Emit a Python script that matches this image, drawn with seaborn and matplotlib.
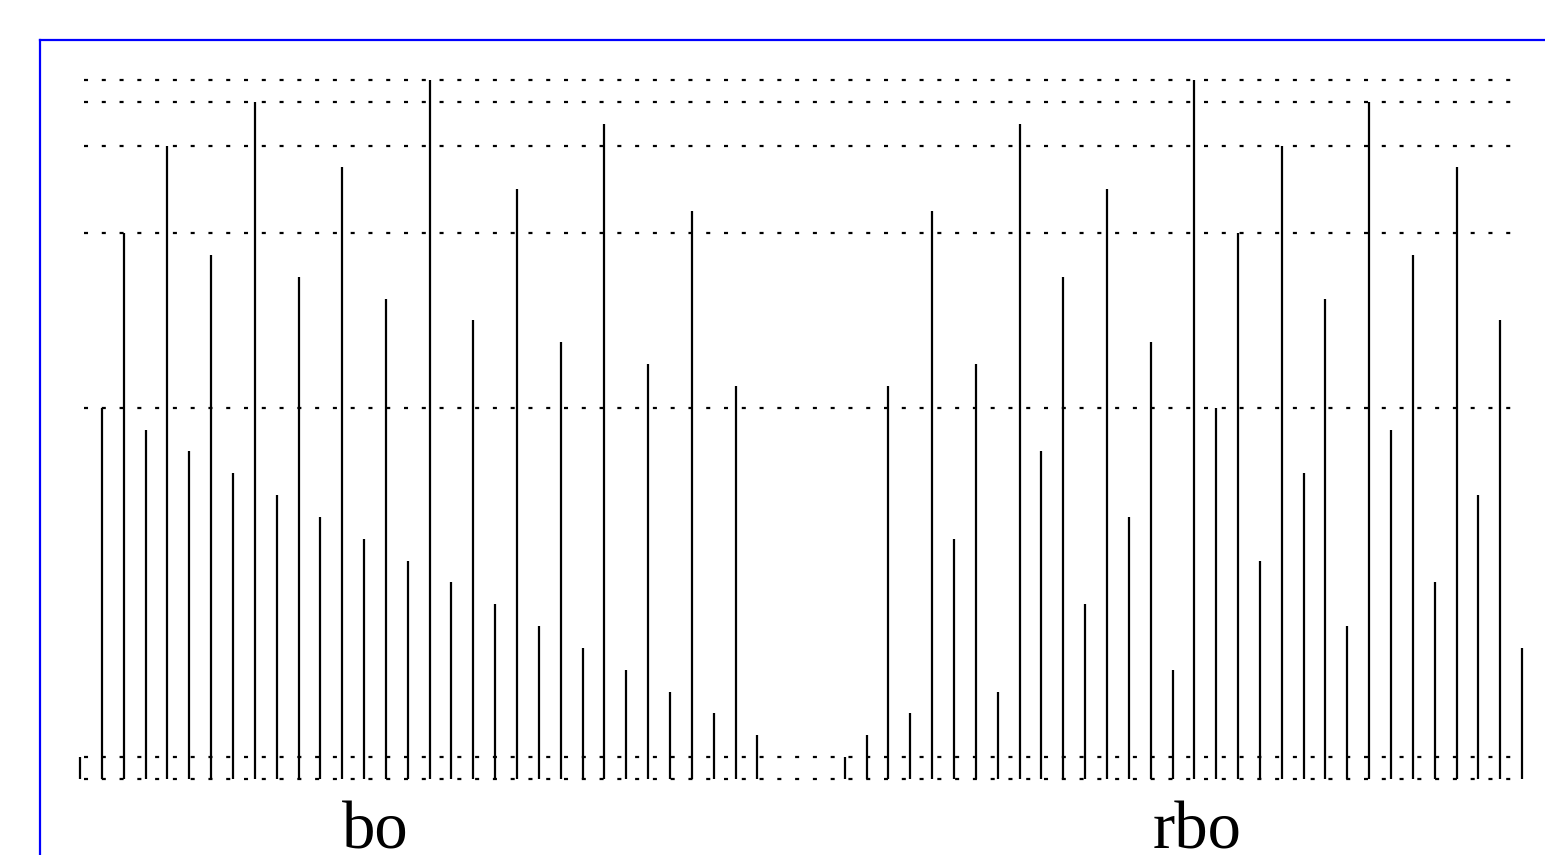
import numpy as np
import matplotlib
matplotlib.use("Agg")
import matplotlib.pyplot as plt
import seaborn as sns
from matplotlib.lines import Line2D

# ---- data ----
bo_heights = [1, 17, 25, 16, 29, 15, 24, 14, 31, 13, 23, 12, 28, 11, 22, 10,
              32, 9, 21, 8, 27, 7, 20, 6, 30, 5, 19, 4, 26, 3, 18, 2]
rbo_heights = [1, 2, 18, 3, 26, 11, 19, 4, 30, 15, 23, 8, 27, 12, 20, 5,
               32, 17, 25, 10, 29, 14, 22, 7, 31, 16, 24, 9, 28, 13, 21, 6]
grid_levels = [0, 1, 17, 25, 29, 31, 32]
group_labels = ["bo", "rbo"]

sns.set_theme(style="white")
plt.rcParams["lines.scale_dashes"] = False

fig = plt.figure(figsize=(15.45, 8.55), dpi=100)
ax = fig.add_axes([0, 0, 1, 1])
ax.set_axis_off()

step = 21.85
x0 = 80.0
ax.set_xlim(-x0 / step, (1545 - x0) / step)
ystep = 21.84
ax.set_ylim((779 - 855) / ystep, 779 / ystep)

bo_x = np.arange(len(bo_heights))
rbo_x = np.arange(len(rbo_heights)) + len(bo_heights) + 3

# dotted horizontal reference lines
gx0 = (84 - x0) / step
gx1 = (1515 - x0) / step
for lev in grid_levels:
    ax.hlines(lev, gx0, gx1, colors="black", linewidth=1.6,
              linestyles=(0, (2.9, 9.9)))

# stems
ax.vlines(bo_x, 0, bo_heights, colors="black", linewidth=1.6)
ax.vlines(rbo_x, 0, rbo_heights, colors="black", linewidth=1.6)

# group labels
ax.text((375 - x0) / step, (779 - 848) / ystep, group_labels[0],
        ha="center", va="baseline", fontsize=48, family="Liberation Serif",
        color="black")
ax.text((1197 - x0) / step, (779 - 848) / ystep, group_labels[1],
        ha="center", va="baseline", fontsize=48, family="Liberation Serif",
        color="black")

# blue frame (left and top edges)
W, H = 1545.0, 855.0
fig.add_artist(Line2D([40 / W, 40 / W], [0, 1 - 40 / H], color="#0000ff",
                      linewidth=1.6, solid_capstyle="projecting"))
fig.add_artist(Line2D([40 / W, 1], [1 - 40 / H, 1 - 40 / H], color="#0000ff",
                      linewidth=1.6, solid_capstyle="projecting"))

fig.savefig("out.png", dpi=100)
